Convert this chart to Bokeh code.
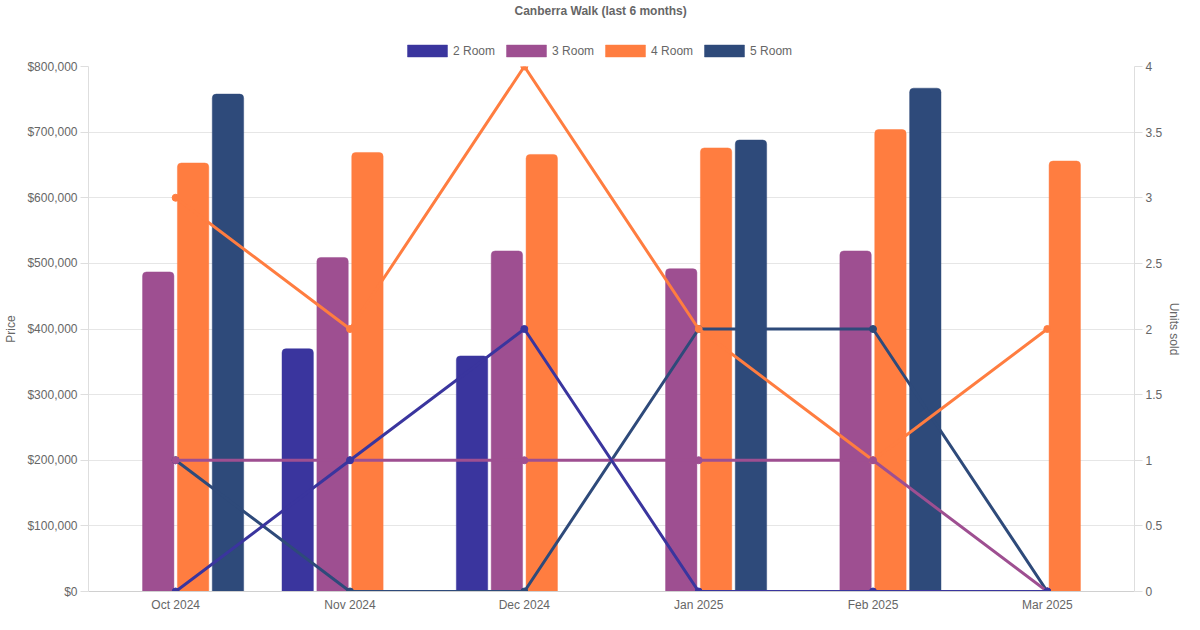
import math
from bokeh.plotting import figure
from bokeh.layouts import column
from bokeh.models import (FactorRange, Range1d, LinearAxis, NumeralTickFormatter, FixedTicker,
                          CustomJSTickFormatter, Legend, LegendItem, ColumnDataSource)
from bokeh.transform import dodge
from bokeh.embed import file_html
from bokeh.resources import INLINE

# ---------------- data ----------------
months = ["Oct 2024", "Nov 2024", "Dec 2024", "Jan 2025", "Feb 2025", "Mar 2025"]
series = ["2 Room", "3 Room", "4 Room", "5 Room"]

price_2room = [None, 370000, 359000, None, None, None]
price_3room = [487000, 509000, 519000, 492000, 519000, None]
price_4room = [653000, 669000, 666000, 676000, 704000, 656000]
price_5room = [758000, None, None, 688000, 767000, None]

units_2room = [0, 1, 2, 0, 0, 0]
units_3room = [1, 1, 1, 1, 1, 0]
units_4room = [3, 2, 4, 2, 1, 2]
units_5room = [1, 0, 0, 2, 2, 0]

price_ticks = [0, 100000, 200000, 300000, 400000, 500000, 600000, 700000, 800000]
units_ticks = [0, 0.5, 1, 1.5, 2, 2.5, 3, 3.5, 4]

colors = ["#3a359e", "#9e4f91", "#ff7d40", "#2e4a7a"]
offsets = [-0.3, -0.1, 0.1, 0.3]

FONT = "Liberation Sans"
TXT = "#666666"
W = 1184


def nn(v):
    return [math.nan if x is None else x for x in v]


src = ColumnDataSource(dict(
    month=months,
    p2=nn(price_2room), p3=nn(price_3room), p4=nn(price_4room), p5=nn(price_5room),
    u2=units_2room, u3=units_3room, u4=units_4room, u5=units_5room,
))

# ---------------- header: title + legend ----------------
head = figure(width=W, height=58, x_range=Range1d(0, 1), y_range=Range1d(0, 1),
              output_backend="svg", toolbar_location=None,
              min_border_left=0, min_border_right=0, min_border_top=12, min_border_bottom=0)
head.axis.visible = False
head.grid.grid_line_color = None
head.outline_line_color = None
head.title.text = "Canberra Walk (last 6 months)"
head.title.align = "left"
head.title.offset = 426
head.title.text_font = FONT
head.title.text_font_size = "12px"
head.title.text_font_style = "bold"
head.title.text_color = TXT
head.title.standoff = 2

# legend-only renderers (no visible data)
empty = ColumnDataSource(dict(x=[math.nan], top=[math.nan]))
legend_renderers = []
for col in colors:
    legend_renderers.append(head.vbar(x="x", top="top", width=0.1, source=empty,
                                      fill_color=col, line_color=col, line_alpha=0.45))
items = [LegendItem(label=s, renderers=[r], index=0) for s, r in zip(series, legend_renderers)]
legend = Legend(items=items, orientation="horizontal", location=(314, 0),
                glyph_width=50, glyph_height=15, label_standoff=1, spacing=6,
                label_text_font=FONT, label_text_font_size="12px", label_text_color=TXT,
                border_line_color=None, background_fill_alpha=0,
                padding=0, margin=0)
head.add_layout(legend, "center")

# ---------------- main chart ----------------
p = figure(x_range=FactorRange(*months), y_range=Range1d(0, 800000),
           width=W, height=556, output_backend="svg", toolbar_location=None,
           min_border_left=88, min_border_right=40, min_border_top=8, min_border_bottom=21)
p.extra_y_ranges = {"units": Range1d(0, 4)}
p.outline_line_color = None

# bars
for key, off, col in zip(["p2", "p3", "p4", "p5"], offsets, colors):
    p.vbar(x=dodge("month", off, range=p.x_range), top=key, bottom=0, width=0.18,
           source=src, fill_color=col, line_color=col, line_alpha=0.45, line_width=1,
           border_radius=(4, 4, 0, 0))

# lines (first series drawn on top)
for key, col in reversed(list(zip(["u2", "u3", "u4", "u5"], colors))):
    p.line(x="month", y=key, source=src, y_range_name="units", line_color=col, line_width=3)
    p.scatter(x="month", y=key, source=src, y_range_name="units", size=7,
              fill_color=col, line_color=col)

grid_col = "#e6e6e6"
axis_col = "#dedede"

p.xgrid.grid_line_color = None
p.ygrid.grid_line_color = grid_col
p.ygrid.ticker = FixedTicker(ticks=price_ticks)

ya = p.yaxis[0]
ya.ticker = FixedTicker(ticks=price_ticks)
ya.formatter = NumeralTickFormatter(format="$0,0")
ya.axis_label = "Price"

yr = LinearAxis(y_range_name="units", axis_label="Units sold",
                ticker=FixedTicker(ticks=units_ticks),
                formatter=CustomJSTickFormatter(code="return String(tick);"))
p.add_layout(yr, "right")

for ax in [ya, yr]:
    ax.major_tick_in = 0
    ax.major_tick_out = 8
    ax.minor_tick_line_color = None
ya.major_label_standoff = 3
ya.axis_label_standoff = 6
yr.major_label_standoff = 3
yr.axis_label_standoff = 2

xa = p.xaxis[0]
xa.minor_tick_line_color = None
xa.major_tick_in = 0
xa.major_tick_out = 0
xa.major_label_standoff = 6

for ax in [ya, yr, xa]:
    ax.axis_line_color = axis_col
    ax.major_label_text_font = FONT
    ax.major_label_text_font_size = "12px"
    ax.major_label_text_color = TXT
    ax.axis_label_text_font = FONT
    ax.axis_label_text_font_size = "12px"
    ax.axis_label_text_font_style = "normal"
    ax.axis_label_text_color = TXT
ya.major_tick_line_color = axis_col
yr.major_tick_line_color = axis_col
xa.major_tick_line_color = None
xa.axis_line_color = "#d0d0d0"

layout = column(head, p, spacing=0)
open("out.html", "w").write(file_html(layout, INLINE))
